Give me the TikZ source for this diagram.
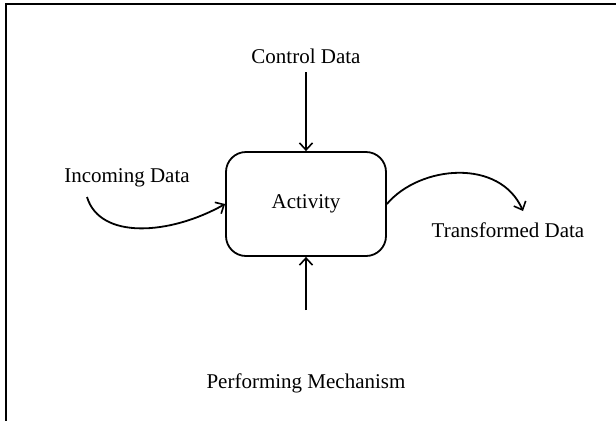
\documentclass[tikz,border=0pt]{standalone}
\usepackage{fontspec}
\setmainfont{Liberation Serif}
\usetikzlibrary{arrows.meta}
\begin{document}
\begin{tikzpicture}[x=1pt,y=-1pt,
  line/.style={line width=1.8pt},
  flow/.style={line, -{Straight Barb[length=7pt,width=13pt,line width=1.6pt]}},
  label/.style={font=\fontsize{21}{25}\selectfont, inner sep=0pt},
  activitybox/.style={draw, line width=1.8pt, rounded corners=20pt,
    minimum width=160pt, minimum height=104pt, font=\fontsize{21}{25}\selectfont}]
  \useasboundingbox (0,0) rectangle (616,421);
  % partial frame: top and left edges
  \draw[line] (616,4) -- (6,4) -- (6,421);

  \node[activitybox] (act) at (306,204) {Activity};

  \node[label] (ctrl) at (306,56) {Control Data};
  \node[label] (inc) at (127,178) {Incoming Data};
  \node[label] (out) at (508,230) {Transformed Data};
  \node[label] (mech) at (306,383) {Performing Mechanism};

  \coordinate (ctrlstart) at (306,72);
  \coordinate (mechstart) at (306,310);
  \coordinate (incstart) at (87,197);
  \coordinate (outend) at (523,211);

  \draw[flow] (ctrlstart) -- (act.north);
  \draw[flow] (mechstart) -- (act.south);
  \draw[flow] (incstart) .. controls (100,240) and (170,235) .. (act.west);
  \draw[flow] (act.east) .. controls (420,165) and (500,158) .. (outend);
\end{tikzpicture}
\end{document}
